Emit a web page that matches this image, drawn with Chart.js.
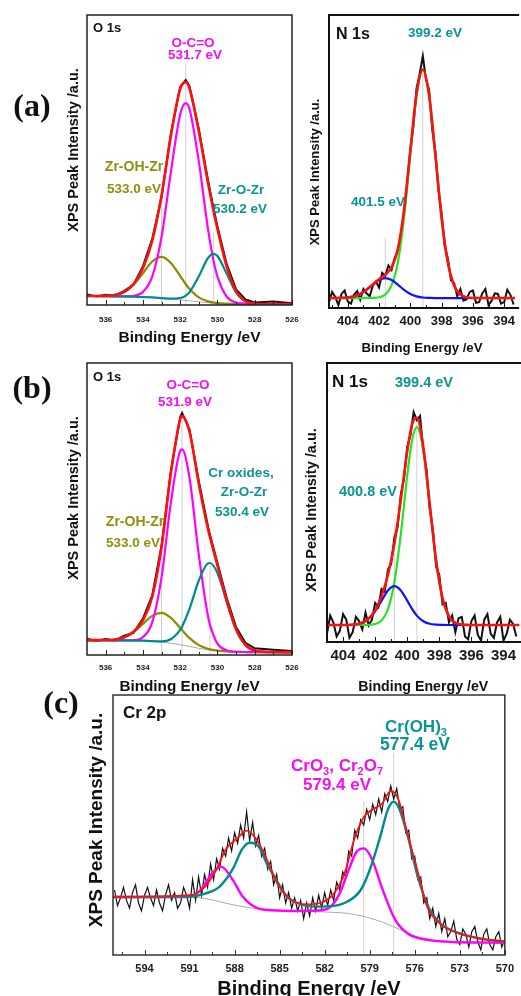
<!DOCTYPE html>
<html>
<head>
<meta charset="utf-8">
<script src="https://cdn.jsdelivr.net/npm/chart.js@4.4.1/dist/chart.umd.min.js"></script>
<style>
  html, body { margin: 0; padding: 0; background: #fff; overflow: hidden; }
  #wrap { position: relative; width: 521px; height: 996px; }
  #wrap canvas { position: absolute; left: 0; top: 0; }
</style>
</head>
<body>
<div id="wrap">
  <canvas id="o1sA" width="521" height="996"></canvas>
  <canvas id="n1sA" width="521" height="996"></canvas>
  <canvas id="o1sB" width="521" height="996"></canvas>
  <canvas id="n1sB" width="521" height="996"></canvas>
  <canvas id="cr2p" width="521" height="996"></canvas>
</div>
<script>
// ---- tick labels ----
const o1sTicks = [536, 534, 532, 530, 528, 526];
const o1sMinor = [535, 533, 531, 529, 527];
const n1sTicks = [404, 402, 400, 398, 396, 394];
const n1sMinor = [405, 403, 401, 399, 397, 395];
const cr2pTicks = [594, 591, 588, 585, 582, 579, 576, 573, 570];
const cr2pMinor = [595.5, 592.5, 589.5, 586.5, 583.5, 580.5, 577.5, 574.5, 571.5];

// ---- (a) O 1s ----
const o1sA_be = [537, 536.5, 536, 535.5, 535, 534.5, 534, 533.5, 533, 532.5, 532, 531.7, 531.5, 531, 530.5, 530.2, 530, 529.5, 529, 528.5, 528, 527, 526];
const o1sA_raw = [3.6, 2.9, 3.5, 3.2, 4.9, 7.0, 13.3, 22.8, 37.2, 59.0, 75.2, 77.6, 75.4, 60.6, 42.8, 33.0, 27.1, 14.0, 5.4, 1.9, 0.9, 1.2, 0.6];
const o1sA_fit = [3.1, 3.1, 3.15, 3.45, 4.5, 7.25, 12.7, 22.2, 37.7, 58.3, 74.5, 76.85, 74.65, 59.85, 41.85, 32.1, 26.2, 13.15, 4.74, 1.3, 0.42, 0.3, 0.3];
const o1sA_occo = [3.1, 3.1, 3.05, 3.0, 2.95, 3.15, 4.5, 9.8, 23.5, 45.8, 65.7, 69.6, 67.6, 49.5, 25.9, 14.95, 9.8, 2.85, 0.85, 0.4, 0.3, 0.3, 0.3];
const o1sA_zrohzr = [3.1, 3.1, 3.15, 3.45, 4.5, 6.95, 10.95, 15.0, 16.6, 14.5, 10.0, 7.15, 5.55, 2.65, 1.25, 0.83, 0.7, 0.45, 0.4, 0.35, 0.3, 0.3, 0.3];
const o1sA_zrozr = [3.1, 3.1, 3.05, 3.0, 2.95, 2.85, 2.75, 2.6, 2.4, 2.17, 2.4, 3.25, 4.45, 9.9, 16.3, 17.65, 16.9, 10.75, 4.3, 1.25, 0.42, 0.3, 0.3];
const o1sA_bg = [3.1, 3.1, 3.05, 3.0, 2.95, 2.85, 2.75, 2.6, 2.4, 2.1, 1.8, 1.55, 1.45, 1.1, 0.8, 0.65, 0.6, 0.45, 0.4, 0.35, 0.3, 0.3, 0.3];
const o1sA_marks = [533.0, 531.7, 530.2];
const o1sA_markTop = [39, 83, 25];

// ---- (a) N 1s ----
const n1sA_be = [405.2, 404.5, 404, 403.5, 403, 402.5, 402, 401.6, 401.2, 400.8, 400.4, 400, 399.6, 399.2, 398.8, 398.4, 398, 397.6, 397.2, 396.8, 396.4, 396, 395, 394, 393.3];
const n1sA_fit = [3.4, 3.44, 3.59, 4.13, 5.43, 7.55, 9.82, 11.4, 13.86, 20.08, 33.6, 53.7, 73.18, 81.39, 72.65, 52.3, 30.8, 15.5, 7.7, 4.6, 3.66, 3.43, 3.4, 3.4, 3.4];
const n1sA_main = [3.4, 3.4, 3.4, 3.4, 3.4, 3.43, 3.66, 4.6, 7.7, 15.5, 30.8, 52.3, 72.6, 81.2, 72.6, 52.3, 30.8, 15.5, 7.7, 4.6, 3.66, 3.43, 3.4, 3.4, 3.4];
const n1sA_minorBe = [404.5, 404, 403.5, 403, 402.5, 402, 401.6, 401.2, 400.8, 400.4, 400, 399.6, 399.2, 398.8, 398.4, 397.6, 396.8, 396.3];
const n1sA_minor = [3.44, 3.59, 4.13, 5.43, 7.52, 9.56, 10.2, 9.56, 7.98, 6.2, 4.8, 3.98, 3.59, 3.45, 3.4, 3.4, 3.4, 3.4];
const n1sA_rawStart = 405.2;
const n1sA_raw = [2.0, 5.5, 3.8, 1.0, 4.8, 6.0, 2.2, 1.5, 4.5, 5.8, 2.8, 6.5, 5.0, 4.0, 7.5, 9.0, 7.0, 12.0, 11.0, 14.5,
  13.0, 17.0, 19.5, 24.0, 33.0, 42.0, 54.0, 62.0, 75.0, 80.0, 86.0, 78.0, 74.5, 61.0, 53.5, 40.0, 32.5, 21.0, 17.0, 9.5,
  8.5, 4.0, 6.5, 2.5, 3.0, 5.5, 6.0, 1.8, 2.0, 5.0, 6.5, 1.0, 2.5, 5.0, 4.8, 1.5, 2.0, 6.2, 4.5, 1.2];
const n1sA_marks = [401.6, 399.2];
const n1sA_markTop = [24, 80];

// ---- (b) O 1s ----
const o1sB_be = [537, 536.5, 536, 535.5, 535, 534.5, 534, 533.5, 533, 532.5, 532, 531.9, 531.5, 531, 530.5, 530.4, 530, 529.5, 529, 528.5, 528, 527, 526];
const o1sB_raw = [5.6, 4.8, 5.5, 5.0, 6.6, 7.6, 12.5, 20.4, 37.5, 63.0, 81.5, 82.9, 77.2, 59.5, 43.8, 41.2, 31.5, 19.4, 9.6, 4.2, 2.3, 1.8, 1.4];
const o1sB_fit = [5.1, 5.11, 5.12, 5.31, 6.09, 7.96, 11.85, 19.91, 36.88, 62.32, 80.73, 81.8, 76.47, 58.59, 42.91, 40.34, 30.67, 18.56, 8.78, 3.47, 1.55, 1.01, 1.0];
const o1sB_occo = [5.1, 5.1, 5.05, 5.0, 5.0, 5.09, 6.1, 11.16, 26.6, 52.2, 69.9, 70.4, 60.7, 34.3, 13.0, 10.3, 3.9, 1.55, 1.08, 1.02, 1.0, 1.0, 1.0];
const o1sB_zrohzr = [5.1, 5.11, 5.12, 5.31, 6.09, 7.82, 10.65, 13.41, 14.4, 12.71, 9.25, 8.52, 5.77, 3.39, 2.11, 1.94, 1.47, 1.21, 1.05, 1.02, 1.0, 1.0, 1.0];
const o1sB_crox = [5.1, 5.1, 5.05, 5.0, 5.0, 4.95, 4.9, 4.74, 4.68, 5.41, 8.58, 9.68, 15.8, 25.5, 31.4, 31.5, 28.1, 18.2, 8.75, 3.47, 1.55, 1.01, 1.0];
const o1sB_bg = [5.1, 5.1, 5.05, 5.0, 5.0, 4.95, 4.9, 4.7, 4.4, 4.0, 3.5, 3.4, 2.9, 2.3, 1.8, 1.7, 1.4, 1.2, 1.05, 1.02, 1.0, 1.0, 1.0];
const o1sB_marks = [533.0, 531.9, 530.4];
const o1sB_markTop = [38, 83, 31];

// ---- (b) N 1s ----
const n1sB_be = [405, 404.5, 404, 403.5, 403, 402.5, 402, 401.6, 401.2, 400.8, 400.4, 400, 399.7, 399.4, 399, 398.6, 398.2, 397.8, 397.4, 397, 396.6, 396.2, 395.5, 394.5, 393];
const n1sB_fit = [6.1, 6.1, 6.11, 6.17, 6.52, 7.85, 11.35, 16.45, 24.11, 35.3, 50.97, 68.33, 77.98, 80.35, 70.02, 49.52, 29.2, 15.72, 9.2, 6.89, 6.26, 6.12, 6.1, 6.1, 6.1];
const n1sB_main = [6.1, 6.1, 6.1, 6.1, 6.1, 6.14, 6.46, 7.72, 11.74, 21.4, 38.6, 59.6, 72.2, 77.0, 68.7, 49.1, 29.1, 15.7, 9.2, 6.89, 6.26, 6.12, 6.1, 6.1, 6.1];
const n1sB_minorBe = [403.5, 403, 402.5, 402, 401.6, 401.2, 400.8, 400.4, 400, 399.7, 399.4, 399, 398.6, 398.2, 397.8, 397.4, 397, 396.6];
const n1sB_minor = [6.17, 6.52, 7.81, 10.99, 14.83, 18.47, 20.0, 18.47, 14.83, 11.88, 9.45, 7.42, 6.52, 6.2, 6.12, 6.1, 6.1, 6.1];
const n1sB_rawStart = 405.0;
const n1sB_raw = [3.0, 9.5, 7.0, 2.0, 4.0, 10.0, 8.0, 1.5, 3.5, 9.0, 7.5, 4.5, 10.5, 6.0, 8.0, 14.0, 12.5, 19.0, 18.0, 26.0,
  28.0, 37.5, 41.0, 53.0, 58.5, 70.0, 74.0, 82.4, 79.5, 81.0, 68.5, 62.0, 47.5, 40.5, 27.0, 24.0, 13.5, 14.0, 7.0, 9.5,
  3.5, 8.5, 9.0, 2.0, 1.0, 7.5, 9.5, 2.5, 0.5, 8.0, 10.0, 3.0, 1.5, 7.0, 9.0, 0.5, 3.0, 8.0, 6.5, 2.0];
const n1sB_marks = [400.8, 399.4];
const n1sB_markTop = [42, 78];

// ---- (c) Cr 2p ----
const cr2p_fitBe = [596.1, 591.0, 590.1, 589.2, 588.6, 587.8, 587.2, 586.5, 585.8, 585.1, 584.3, 583.2, 582.2, 581.4, 580.7, 580.0, 579.4, 578.8, 578.2, 577.6, 577.1, 576.5, 575.8, 575.2, 574.3, 573.0, 571.5, 570.0];
const cr2p_fit = [22.3, 23.0, 25.5, 33, 40.5, 45, 47.8, 44, 36, 27, 21.5, 19.5, 20.2, 23.5, 31, 45, 53, 56, 58, 63, 60, 47, 32, 19, 12, 8.2, 6.2, 5.2];
const cr2p_ohBe = [596.1, 591.0, 589.9, 589.0, 588.1, 587.5, 587.0, 586.4, 585.8, 585.1, 584.5, 583.8, 582.7, 581.6, 580.5, 579.6, 579.0, 578.3, 577.8, 577.4, 577.0, 576.4, 575.8, 575.1, 574.3, 573.0, 571.7, 570.0];
const cr2p_oh = [22.3, 22.5, 23.7, 26.3, 33.3, 40.7, 43.2, 41.7, 34.6, 27.6, 22.4, 19.9, 18.6, 18.8, 20.5, 25, 32.7, 45.5, 55.8, 59, 55.8, 44.3, 30.1, 18.6, 12.2, 8.3, 6.4, 5.1];
const cr2p_oxBe = [596.1, 591.2, 590.3, 589.6, 588.9, 588.1, 587.5, 586.6, 585.5, 583.8, 582.2, 581.6, 581.0, 580.4, 579.9, 579.4, 578.9, 578.1, 577.3, 576.4, 575.1, 573.5, 570.0];
const cr2p_ox = [22.3, 22.3, 24.8, 30.6, 34, 28.7, 22.8, 18.3, 17.2, 16.9, 17.2, 18.6, 23.7, 32.7, 39.5, 41, 37.5, 24.5, 13.5, 8.0, 5.8, 5.0, 4.7];
const cr2p_bgBe = [596.1, 591, 590, 589, 588, 587, 586, 585, 583, 581, 580, 579, 578, 577, 576, 575, 574, 572, 570];
const cr2p_bg = [22.3, 22.2, 21.8, 20.5, 19.2, 18.2, 17.5, 17.1, 16.7, 16.3, 15.6, 14.2, 12.3, 9.8, 7.4, 6.0, 5.3, 5.0, 5.0];
const cr2p_rawStart = 596.0;
const cr2p_raw = [25, 19, 22, 26, 21, 18, 24, 27, 20, 17, 23, 26, 22, 19, 25, 20, 17, 23, 27, 21,
  24, 18, 20, 26, 23, 18, 29, 21, 30, 23, 31, 26, 35, 29, 37, 33, 41, 38, 45, 40,
  47, 43, 50, 45, 55, 44, 51, 42, 46, 38, 41, 33, 36, 27, 31, 22, 27, 20, 24, 18,
  22, 17, 21, 14, 20, 15, 22, 17, 23, 18, 24, 19, 25, 21, 28, 25, 32, 30, 40, 38,
  48, 45, 52, 50, 56, 52, 58, 54, 60, 55, 62, 59, 65, 60, 64, 56, 57, 47, 48, 37,
  38, 29, 30, 20, 22, 14, 18, 11, 16, 9, 14, 7, 9, 13, 6, 4, 10, 8, 3, 9,
  11, 5, 2, 8, 10, 4, 2, 7, 9, 3, 6];
const cr2p_marks = [579.4, 577.4];
const cr2p_markTop = [59, 77.7];

// ---- styling ----
const FONT = '"Liberation Sans", Arial, sans-serif';
const SERIF = '"Liberation Serif", "Times New Roman", serif';
const RED = '#ff1010', MAG = '#ff00ff', TEAL = '#008b8b', OLIVE = '#8b8b00';
const GREEN = '#22e622', BLUE = '#1010ff', GRAY = '#aaaaaa', MARK = '#d0d0d0';
const TEAL_T = '#0a9494', OLIVE_T = '#8f8f10', MAG_T = '#f010f0';
Chart.defaults.font.family = FONT;

function pts(xs, ys) {
  return xs.map((x, i) => ({ x: x, y: ys[i] }));
}
function rawPts(start, ys) {
  return ys.map((y, i) => ({ x: +(start - 0.2 * i).toFixed(2), y: y }));
}
function curve(data, color, width, order, smooth) {
  return {
    data: data, borderColor: color, borderWidth: width, pointRadius: 0, fill: false,
    order: order, tension: 0, cubicInterpolationMode: smooth ? 'monotone' : 'default'
  };
}
function marks(xs, tops) {
  return xs.map((x, i) => curve([{ x: x, y: 0 }, { x: x, y: tops[i] }], MARK, 1, 20, false));
}

function drawNote(ctx, n) {
  ctx.save();
  ctx.translate(n.x, n.y);
  if (n.rot) ctx.rotate(n.rot * Math.PI / 180);
  ctx.fillStyle = n.color || '#111';
  ctx.textBaseline = 'middle';
  ctx.textAlign = 'left';
  const fam = n.serif ? SERIF : FONT;
  const parts = n.parts || [[n.text, 0]];
  const big = 'bold ' + n.size + 'px ' + fam;
  const small = 'bold ' + Math.round(n.size * 0.62) + 'px ' + fam;
  let w = 0;
  parts.forEach(p => { ctx.font = p[1] ? small : big; w += ctx.measureText(p[0]).width; });
  let x = n.align === 'left' ? 0 : -w / 2;
  parts.forEach(p => {
    ctx.font = p[1] ? small : big;
    ctx.fillText(p[0], x, p[1] ? n.size * 0.38 : 0);
    x += ctx.measureText(p[0]).width;
  });
  ctx.restore();
}

function frame(p) {
  return {
    id: 'frame',
    afterDatasetsDraw(chart) {
      const ctx = chart.ctx, a = chart.chartArea, x = chart.scales.x;
      ctx.save();
      ctx.strokeStyle = p.borderColor;
      ctx.lineWidth = 1;
      ctx.beginPath();
      p.ticks.forEach(v => { const px = Math.round(x.getPixelForValue(v)) + 0.5; ctx.moveTo(px, a.bottom); ctx.lineTo(px, a.bottom - 5); });
      p.minor.forEach(v => { const px = Math.round(x.getPixelForValue(v)) + 0.5; ctx.moveTo(px, a.bottom); ctx.lineTo(px, a.bottom - 3); });
      ctx.stroke();
      ctx.lineWidth = p.borderWidth;
      ctx.beginPath();
      if (p.open) {
        ctx.moveTo(a.right + 4, a.top);
        ctx.lineTo(a.left, a.top);
        ctx.lineTo(a.left, a.bottom);
        ctx.lineTo(a.right + 4, a.bottom);
      } else {
        ctx.rect(a.left, a.top, a.right - a.left, a.bottom - a.top);
      }
      ctx.stroke();
      p.notes.forEach(n => drawNote(ctx, n));
      ctx.restore();
    }
  };
}

function panel(id, p) {
  const lh = p.titleSize * 1.2;
  const edge = Math.min(p.titleY + lh / 2, 996);
  const axisH = edge - p.b;
  const padB = edge - p.titleY - lh / 2;
  const right = Math.min(p.r, 521);
  return new Chart(document.getElementById(id), {
    type: 'line',
    data: { datasets: p.datasets },
    options: {
      responsive: false,
      animation: false,
      layout: { padding: { left: p.l, right: 521 - right, top: p.t, bottom: 996 - p.b - axisH } },
      plugins: { legend: { display: false }, tooltip: { enabled: false } },
      scales: {
        x: {
          type: 'linear', reverse: true, min: p.xmin, max: p.xmax,
          grid: { display: false, drawTicks: false },
          border: { display: false },
          afterBuildTicks: s => { s.ticks = p.ticks.map(v => ({ value: v })); },
          afterFit: s => { s.height = axisH; },
          ticks: {
            autoSkip: false, maxRotation: 0, padding: p.tickPad, color: '#1a1a1a',
            font: { size: p.tickSize, weight: 'bold' },
            callback: v => String(v)
          },
          title: {
            display: true, text: 'Binding Energy /eV', color: '#111',
            font: { size: p.titleSize, weight: 'bold', lineHeight: 1.2 },
            padding: { top: 0, bottom: padB }
          }
        },
        y: { display: false, min: 0, max: 100 }
      }
    },
    plugins: [frame(p)]
  });
}

// (a) O 1s
panel('o1sA', {
  l: 87, r: 292, t: 15, b: 305, xmin: 526, xmax: 537,
  ticks: o1sTicks, minor: o1sMinor, tickSize: 8, tickPad: 10, titleSize: 15.5, titleY: 338,
  borderColor: '#222', borderWidth: 1.5,
  datasets: [
    curve(pts(o1sA_be, o1sA_fit), RED, 2.6, 1, true),
    curve(pts(o1sA_be, o1sA_zrozr), TEAL, 2.2, 2, true),
    curve(pts(o1sA_be, o1sA_occo), MAG, 2.2, 3, true),
    curve(pts(o1sA_be, o1sA_zrohzr), OLIVE, 2.2, 4, true),
    curve(pts(o1sA_be, o1sA_raw), '#111', 2, 6, false),
    curve(pts(o1sA_be, o1sA_bg), GRAY, 1, 7, true)
  ].concat(marks(o1sA_marks, o1sA_markTop)),
  notes: [
    { text: '(a)', x: 32, y: 108, size: 32, serif: true },
    { text: 'XPS Peak Intensity /a.u.', x: 74, y: 150, size: 14.5, rot: -90 },
    { text: 'O 1s', x: 93, y: 28, size: 13, align: 'left' },
    { text: 'O-C=O', x: 193, y: 43, size: 13.5, color: MAG_T },
    { text: '531.7 eV', x: 195, y: 55, size: 13.5, color: MAG_T },
    { text: 'Zr-OH-Zr', x: 134, y: 167, size: 14, color: OLIVE_T },
    { text: '533.0 eV', x: 134, y: 189, size: 13.5, color: OLIVE_T },
    { text: 'Zr-O-Zr', x: 241, y: 190, size: 13.5, color: TEAL_T },
    { text: '530.2 eV', x: 240, y: 209, size: 13.5, color: TEAL_T }
  ]
});

// (a) N 1s
panel('n1sA', {
  l: 329, r: 521, t: 15, b: 308, xmin: 393.3, xmax: 405.2, open: true,
  ticks: n1sTicks, minor: n1sMinor, tickSize: 13, tickPad: 6, titleSize: 13.2, titleY: 348,
  borderColor: '#111', borderWidth: 2,
  datasets: [
    curve(pts(n1sA_be, n1sA_fit), RED, 2.6, 1, true),
    curve(pts(n1sA_minorBe, n1sA_minor), BLUE, 2.2, 2, true),
    curve(pts(n1sA_be, n1sA_main), GREEN, 2.2, 3, true),
    curve(rawPts(n1sA_rawStart, n1sA_raw), '#111', 2, 6, false)
  ].concat(marks(n1sA_marks, n1sA_markTop)),
  notes: [
    { text: 'XPS Peak Intensity /a.u.', x: 315, y: 172, size: 13, rot: -90 },
    { text: 'N 1s', x: 336, y: 35, size: 16, align: 'left' },
    { text: '399.2 eV', x: 435, y: 33, size: 13.5, color: TEAL_T },
    { text: '401.5 eV', x: 378, y: 202, size: 13.5, color: TEAL_T }
  ]
});

// (b) O 1s
panel('o1sB', {
  l: 87, r: 292, t: 363, b: 655, xmin: 526, xmax: 537,
  ticks: o1sTicks, minor: o1sMinor, tickSize: 8, tickPad: 8, titleSize: 15.3, titleY: 687,
  borderColor: '#222', borderWidth: 1.5,
  datasets: [
    curve(pts(o1sB_be, o1sB_fit), RED, 2.6, 1, true),
    curve(pts(o1sB_be, o1sB_crox), TEAL, 2.2, 2, true),
    curve(pts(o1sB_be, o1sB_occo), MAG, 2.2, 3, true),
    curve(pts(o1sB_be, o1sB_zrohzr), OLIVE, 2.2, 4, true),
    curve(pts(o1sB_be, o1sB_raw), '#111', 2, 6, false),
    curve(pts(o1sB_be, o1sB_bg), GRAY, 1, 7, true)
  ].concat(marks(o1sB_marks, o1sB_markTop)),
  notes: [
    { text: '(b)', x: 32, y: 390, size: 32, serif: true },
    { text: 'XPS Peak Intensity /a.u.', x: 74, y: 498, size: 14.5, rot: -90 },
    { text: 'O 1s', x: 93, y: 377, size: 13, align: 'left' },
    { text: 'O-C=O', x: 188, y: 385, size: 13.5, color: MAG_T },
    { text: '531.9 eV', x: 185, y: 402, size: 13.5, color: MAG_T },
    { text: 'Zr-OH-Zr', x: 135, y: 522, size: 14, color: OLIVE_T },
    { text: '533.0 eV', x: 133, y: 543, size: 13.5, color: OLIVE_T },
    { text: 'Cr oxides,', x: 241, y: 473, size: 13.5, color: TEAL_T },
    { text: 'Zr-O-Zr', x: 244, y: 492, size: 13.5, color: TEAL_T },
    { text: '530.4 eV', x: 242, y: 512, size: 13.5, color: TEAL_T }
  ]
});

// (b) N 1s
panel('n1sB', {
  l: 327, r: 521, t: 363, b: 642, xmin: 393.0, xmax: 405.0, open: true,
  ticks: n1sTicks, minor: n1sMinor, tickSize: 15, tickPad: 5, titleSize: 14.2, titleY: 687,
  borderColor: '#111', borderWidth: 2,
  datasets: [
    curve(pts(n1sB_be, n1sB_fit), RED, 2.6, 1, true),
    curve(pts(n1sB_minorBe, n1sB_minor), BLUE, 2.2, 2, true),
    curve(pts(n1sB_be, n1sB_main), GREEN, 2.2, 3, true),
    curve(rawPts(n1sB_rawStart, n1sB_raw), '#111', 2, 6, false)
  ].concat(marks(n1sB_marks, n1sB_markTop)),
  notes: [
    { text: 'XPS Peak Intensity /a.u.', x: 312, y: 510, size: 14.5, rot: -90 },
    { text: 'N 1s', x: 332, y: 382, size: 17, align: 'left' },
    { text: '399.4 eV', x: 424, y: 383, size: 14.5, color: TEAL_T },
    { text: '400.8 eV', x: 368, y: 492, size: 14.5, color: TEAL_T }
  ]
});

// (c) Cr 2p
panel('cr2p', {
  l: 113, r: 511, t: 695, b: 955, xmin: 570, xmax: 596.1,
  ticks: cr2pTicks, minor: cr2pMinor, tickSize: 11, tickPad: 7, titleSize: 20, titleY: 989,
  borderColor: '#333', borderWidth: 1.5,
  datasets: [
    curve(pts(cr2p_fitBe, cr2p_fit), RED, 1.8, 1, true),
    curve(pts(cr2p_ohBe, cr2p_oh), TEAL, 2.4, 2, true),
    curve(pts(cr2p_oxBe, cr2p_ox), MAG, 2.4, 3, true),
    curve(rawPts(cr2p_rawStart, cr2p_raw), '#111', 1.2, 6, false),
    curve(pts(cr2p_bgBe, cr2p_bg), GRAY, 1, 7, true)
  ].concat(marks(cr2p_marks, cr2p_markTop)),
  notes: [
    { text: '(c)', x: 61, y: 705, size: 32, serif: true },
    { text: 'XPS Peak Intensity /a.u.', x: 97, y: 820, size: 19, rot: -90 },
    { text: 'Cr 2p', x: 123, y: 713, size: 17, align: 'left' },
    { parts: [['Cr(OH)', 0], ['3', 1]], x: 416, y: 727, size: 17, color: TEAL_T },
    { text: '577.4 eV', x: 415, y: 745, size: 17.5, color: TEAL_T },
    { parts: [['CrO', 0], ['3', 1], [', Cr', 0], ['2', 1], ['O', 0], ['7', 1]], x: 337, y: 766, size: 17, color: MAG_T },
    { text: '579.4 eV', x: 337, y: 785, size: 17, color: MAG_T }
  ]
});
</script>
</body>
</html>
